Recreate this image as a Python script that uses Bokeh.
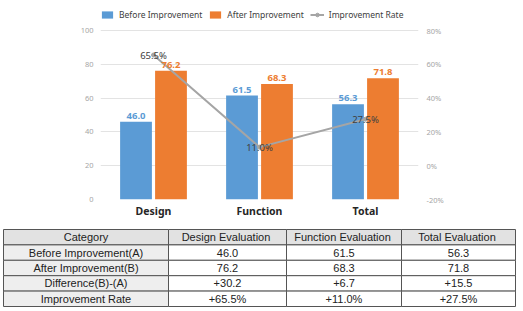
from bokeh.plotting import figure
from bokeh.models import (ColumnDataSource, FactorRange, Range1d, LinearAxis, FixedTicker,
                          PrintfTickFormatter, LabelSet, Legend, LegendItem)
from bokeh.core.properties import value
from bokeh.transform import dodge
from bokeh.layouts import column, row
from bokeh.embed import file_html
from bokeh.resources import INLINE

# ---- data ----
categories = ["Design", "Function", "Total"]
before = [46.0, 61.5, 56.3]
after = [76.2, 68.3, 71.8]
difference = [30.2, 6.7, 15.5]
rate = [65.5, 11.0, 27.5]

left_ticks = [0, 20, 40, 60, 80, 100]
right_ticks = [-20, 0, 20, 40, 60, 80]

row_labels = ["Category", "Before Improvement(A)", "After Improvement(B)",
              "Difference(B)-(A)", "Improvement Rate"]
col_labels = ["Design  Evaluation", "Function  Evaluation", "Total  Evaluation"]

BLUE = "#5b9bd5"
ORANGE = "#ed7d31"
GRAY = "#a5a5a5"
FONT = "Noto Sans"

# headroom above the top gridline holds the legend
Y_TOP = 114.8

src = ColumnDataSource(dict(
    cat=categories, before=before, after=after, rate=rate,
    before_txt=[f"{v:.1f}" for v in before],
    after_txt=[f"{v:.1f}" for v in after],
    rate_txt=[f"{v:.1f}%" for v in rate],
))

# ---- chart ----
p = figure(width=523, height=222, x_range=FactorRange(*categories),
           y_range=Range1d(0, Y_TOP), output_backend="svg", toolbar_location=None,
           min_border_left=100, min_border_right=105, min_border_top=5,
           min_border_bottom=23)
p.outline_line_color = None
p.extra_y_ranges = {"rate": Range1d(-20, Y_TOP - 20)}

b1 = p.vbar(x=dodge("cat", -0.165, range=p.x_range), top="before", width=0.3,
            source=src, fill_color=BLUE, line_color=None)
b2 = p.vbar(x=dodge("cat", 0.165, range=p.x_range), top="after", width=0.3,
            source=src, fill_color=ORANGE, line_color=None)
ln = p.line(x="cat", y="rate", source=src, y_range_name="rate",
            line_color=GRAY, line_width=2)
mk = p.scatter(x="cat", y="rate", source=src, y_range_name="rate", size=4,
               fill_color=GRAY, line_color=GRAY)

p.add_layout(LabelSet(x=dodge("cat", -0.165, range=p.x_range), y="before", text="before_txt",
                      source=src, y_offset=3, text_align="center", text_baseline="bottom",
                      text_font=value(FONT), text_font_size="9.5px", text_font_style="bold",
                      text_color=BLUE))
p.add_layout(LabelSet(x=dodge("cat", 0.165, range=p.x_range), y="after", text="after_txt",
                      source=src, y_offset=3, text_align="center", text_baseline="bottom",
                      text_font=value(FONT), text_font_size="9.5px", text_font_style="bold",
                      text_color=ORANGE))
p.add_layout(LabelSet(x="cat", y="rate", text="rate_txt", source=src, y_range_name="rate",
                      text_align="center", text_baseline="middle", text_font=value(FONT),
                      text_font_size="9.5px", text_color="#404040"))

p.xgrid.grid_line_color = None
p.ygrid.grid_line_color = "#e3e3e3"
p.ygrid.ticker = FixedTicker(ticks=left_ticks)

p.xaxis.axis_line_color = None
p.xaxis.major_tick_line_color = None
p.xaxis.major_tick_out = 0
p.xaxis.major_tick_in = 0
p.xaxis.major_label_standoff = 4
p.xaxis.major_label_text_font = FONT
p.xaxis.major_label_text_font_size = "10.5px"
p.xaxis.major_label_text_font_style = "bold"
p.xaxis.major_label_text_color = "#262626"

p.yaxis.ticker = FixedTicker(ticks=left_ticks)
p.yaxis.axis_line_color = None
p.yaxis.major_tick_line_color = None
p.yaxis.minor_tick_line_color = None
p.yaxis.major_tick_out = 0
p.yaxis.major_label_standoff = 7
p.yaxis.major_label_text_font = FONT
p.yaxis.major_label_text_font_size = "7.5px"
p.yaxis.major_label_text_color = "#a6a6a6"

ry = LinearAxis(y_range_name="rate", ticker=FixedTicker(ticks=right_ticks),
                formatter=PrintfTickFormatter(format="%d%%"))
ry.axis_line_color = None
ry.major_tick_line_color = None
ry.minor_tick_line_color = None
ry.major_tick_out = 0
ry.major_label_standoff = 8
ry.major_label_text_font = FONT
ry.major_label_text_font_size = "7.5px"
ry.major_label_text_color = "#a6a6a6"
p.add_layout(ry, "right")

legend = Legend(items=[
    LegendItem(label="Before Improvement", renderers=[b1]),
    LegendItem(label="After Improvement", renderers=[b2]),
    LegendItem(label="Improvement Rate", renderers=[ln, mk]),
], orientation="horizontal", location=(0, 179))
legend.label_text_font = FONT
legend.label_text_font_size = "8.5px"
legend.label_text_color = "#404040"
legend.glyph_width = 14
legend.glyph_height = 9
legend.label_height = 9
legend.label_standoff = 5
legend.spacing = 6
legend.padding = 0
legend.margin = 0
legend.border_line_color = None
legend.background_fill_alpha = 0
p.add_layout(legend)

# ---- table ----
col_edges = [3, 168, 286, 401, 515]
table_top = 7
row_h = 15.4

cells = dict(l=[], r=[], t=[], b=[], fill=[])
texts = dict(x=[], y=[], s=[])
body = [
    [f"{v:.1f}" for v in before],
    [f"{v:.1f}" for v in after],
    [f"+{v:.1f}" for v in difference],
    [f"+{v:.1f}%" for v in rate],
]
for i, lab in enumerate(row_labels):
    row_vals = col_labels if i == 0 else body[i - 1]
    for j, s in enumerate([lab] + list(row_vals)):
        cells["l"].append(col_edges[j])
        cells["r"].append(col_edges[j + 1])
        cells["t"].append(table_top + i * row_h)
        cells["b"].append(table_top + (i + 1) * row_h)
        cells["fill"].append("#e2e2e2" if i == 0 else ("#eeeeee" if j == 0 else "#ffffff"))
        texts["x"].append((col_edges[j] + col_edges[j + 1]) / 2)
        texts["y"].append(table_top + (i + 0.5) * row_h)
        texts["s"].append(s)

t = figure(width=523, height=89, x_range=Range1d(0, 523), y_range=Range1d(89, 0),
           output_backend="svg", toolbar_location=None, min_border=0)
t.axis.visible = False
t.grid.visible = False
t.outline_line_color = None
t.quad(left="l", right="r", top="t", bottom="b", fill_color="fill",
       line_color="#555555", line_width=1, source=ColumnDataSource(cells))
t.text(x="x", y="y", text="s", source=ColumnDataSource(texts), text_align="center",
       text_baseline="middle", text_font=value("Liberation Sans"),
       text_font_size="11px", text_color="#222222")

layout = column(p, row(t), spacing=0)
open("out.html", "w").write(file_html(layout, INLINE))
